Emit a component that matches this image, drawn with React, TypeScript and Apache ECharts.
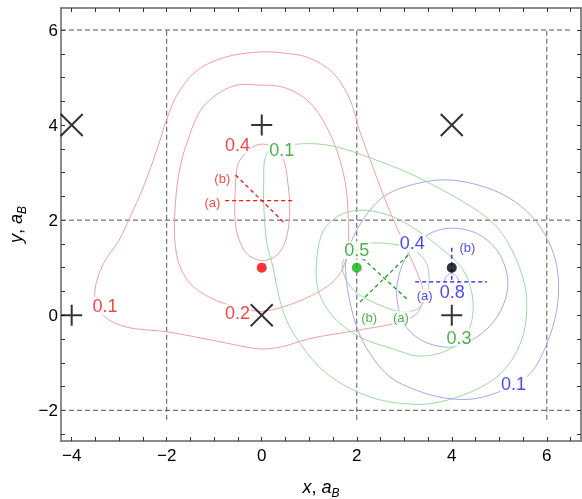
import React, { useEffect, useRef } from "react";
import * as echarts from "echarts";

// ---- axis ranges and ticks ----
const xRange = [-4.225, 6.72];
const yRange = [-2.646, 6.463];
const xTickLabels = [-4, -2, 0, 2, 4, 6];
const yTickLabels = [-2, 0, 2, 4, 6];
const xTicks = [-4, -3.5, -3, -2.5, -2, -1.5, -1, -0.5, 0, 0.5, 1, 1.5, 2, 2.5, 3, 3.5, 4, 4.5, 5, 5.5, 6, 6.5];
const yTicks = [-2.5, -2, -1.5, -1, -0.5, 0, 0.5, 1, 1.5, 2, 2.5, 3, 3.5, 4, 4.5, 5, 5.5, 6];

// dashed lattice lines
const latticeYs = [6, 2, -2];
const latticeXs = [-2, 2, 6];
const latticeXExtent = [-4.225, 6.55];
const latticeYExtent = [-2.2, 6];

// markers
const crossPts = [[-4, 4], [4, 4], [0, 0]];
const plusPts = [[0, 4], [-4, 0], [4, 0]];
const redDot = [[0, 1]];
const greenDot = [[2, 1]];
const blackDot = [[4, 1]];

// ---- contours ----
const red01 = [
  [0, 5.54], [0.5, 5.51], [0.95, 5.43], [1.5, 5.1], [1.86, 4.53], [2.07, 3.85], [2.28, 3.28],
  [2.58, 2.47], [2.8, 1.95], [3.02, 1.45], [3.25, 0.95], [3.4, 0.46], [3.27, 0.04], [2.91, -0.14],
  [2.0, -0.32], [1.02, -0.49], [0.39, -0.67], [0, -0.71], [-0.32, -0.67], [-1.02, -0.53],
  [-2.0, -0.35], [-2.84, -0.25], [-3.26, -0.07], [-3.47, 0.17], [-3.51, 0.53], [-3.33, 1.09],
  [-3.0, 1.58], [-2.77, 2.07], [-2.49, 2.7], [-2.2, 3.5], [-2.0, 4.12], [-1.8, 4.6], [-1.4, 5.12],
  [-0.8, 5.42],
];
const red02 = [
  [0, 4.84], [0.4, 4.81], [0.78, 4.65], [1.09, 4.39], [1.5, 3.68], [1.75, 2.84], [1.82, 2.06],
  [1.8, 1.3], [1.65, 0.88], [1.37, 0.6], [0.67, 0.25], [0, 0.08], [-0.32, 0.13], [-0.88, 0.28],
  [-1.44, 0.6], [-1.72, 1.02], [-1.83, 1.58], [-1.8, 2.56], [-1.72, 3.1], [-1.58, 3.61],
  [-1.23, 4.39], [-0.6, 4.82],
];
const red04 = [
  [-0.02, 3.6], [0.39, 3.4], [0.56, 2.7], [0.58, 2.0], [0.47, 1.48], [0.28, 1.23], [-0.02, 1.15],
  [-0.32, 1.3], [-0.48, 1.6], [-0.55, 1.9], [-0.56, 2.56], [-0.46, 3.26],
];
const green01 = [
  [0.11, 3.4], [0.39, 3.54], [1.02, 3.61], [1.58, 3.54], [2.42, 3.26], [3.12, 2.98], [3.68, 2.7],
  [4.25, 2.38], [4.88, 1.93], [5.23, 1.44], [5.51, 0.74], [5.58, 0.25], [5.51, -0.39], [5.3, -0.88],
  [4.95, -1.3], [4.32, -1.65], [3.61, -1.85], [3.12, -1.87], [2.28, -1.72], [1.37, -1.23],
  [0.81, -0.6], [0.52, -0.1], [0.36, 0.4], [0.24, 1.0], [0.11, 1.5], [0.06, 2.0], [0.04, 2.7],
];
const green03 = [
  [1.16, 1.2], [1.3, 1.78], [1.62, 2.09], [2.07, 2.21], [2.77, 2.07], [3.26, 1.79], [3.72, 1.45],
  [4.24, 0.95], [4.45, 0.25], [4.32, -0.39], [3.9, -0.74], [3.3, -0.86], [2.8, -0.72],
  [2.07, -0.46], [1.51, -0.04], [1.19, 0.53],
];
const green05 = [
  [1.72, 1.16], [2.07, 1.47], [2.63, 1.51], [3.19, 1.37], [3.47, 1.09], [3.51, 0.6], [3.33, 0.17],
  [2.98, 0.07], [2.49, 0.21], [1.93, 0.53], [1.72, 0.88],
];
const blue01 = [
  [2.0, 1.79], [1.78, 1.2], [1.79, 0.67], [2.0, -0.25], [2.28, -0.81], [2.7, -1.3], [3.26, -1.58],
  [3.85, -1.74], [4.45, -1.76], [5.12, -1.56], [5.65, -1.23], [6.0, -0.6], [6.21, 0.11],
  [6.24, 0.81], [6.14, 1.3], [5.86, 1.86], [5.45, 2.3], [4.88, 2.63], [4.03, 2.84], [3.4, 2.8],
  [2.56, 2.49],
];
const blue04 = [
  [3.96, 1.83], [4.53, 1.72], [4.95, 1.37], [5.16, 0.88], [5.16, 0.46], [4.95, -0.04], [4.53, -0.46],
  [3.96, -0.67], [3.35, -0.52], [2.98, -0.15], [2.84, 0.45], [2.92, 0.95], [3.12, 1.35], [3.5, 1.7],
];
const blue08 = [[3.86, 0.66], [3.87, 0.8], [3.99, 0.88], [4.12, 0.8], [4.13, 0.66], [3.99, 0.55]];

// contour labels [x, y, text]
const redLabels = [[-0.51, 3.58, "0.4"], [-3.3, 0.2, "0.1"], [-0.51, 0.05, "0.2"]];
const greenLabels = [[0.42, 3.47, "0.1"], [2.0, 1.37, "0.5"], [4.15, -0.47, "0.3"]];
const blueLabels = [[3.17, 1.51, "0.4"], [4.01, 0.48, "0.8"], [5.3, -1.44, "0.1"]];

// dashed cut segments
const redCutA = [[-0.77, 2.41], [0.7, 2.41]];
const redCutB = [[-0.55, 2.95], [0.49, 1.93]];
const greenCutA = [[2.12, 1.2], [3.09, 0.31]];
const greenCutB = [[2.07, 0.28], [3.12, 1.3]];
const blueCutA = [[3.23, 0.7], [4.74, 0.7]];
const blueCutB = [[4.0, 1.42], [4.0, 0.7]];
const redCutLabels = [[-0.83, 2.88, "(b)"], [-1.04, 2.37, "(a)"]];
const greenCutLabels = [[2.26, -0.05, "(b)"], [2.93, -0.05, "(a)"]];
const blueCutLabels = [[3.43, 0.41, "(a)"], [4.33, 1.42, "(b)"]];

const FONT = "'Liberation Sans', Arial, sans-serif";
const RED_LINE = "#ee9ea6";
const GREEN_LINE = "#9ed89e";
const BLUE_LINE = "#a6a6ee";
const RED = "#f01818";
const GREEN = "#1f9f1f";
const BLUE = "#1c1ce6";

// closed centripetal Catmull-Rom contour through the given points; each data item draws its own segment
function contour(data: number[][], color: string) {
  const n = data.length;
  return {
    type: "custom",
    data,
    silent: true,
    encode: { x: 0, y: 1 },
    z: 2,
    renderItem: (params: any, api: any) => {
      const i = params.dataIndex;
      const p0 = api.coord(data[(i - 1 + n) % n]);
      const p1 = api.coord(data[i]);
      const p2 = api.coord(data[(i + 1) % n]);
      const p3 = api.coord(data[(i + 2) % n]);
      const dist = (a: number[], b: number[]) => Math.max(1e-6, Math.sqrt(Math.hypot(a[0] - b[0], a[1] - b[1])));
      const d1 = dist(p0, p1), d2 = dist(p1, p2), d3 = dist(p2, p3);
      const c1 = [0, 1].map(
        (k) => (d1 * d1 * p2[k] - d2 * d2 * p0[k] + (2 * d1 * d1 + 3 * d1 * d2 + d2 * d2) * p1[k]) / (3 * d1 * (d1 + d2))
      );
      const c2 = [0, 1].map(
        (k) => (d3 * d3 * p1[k] - d2 * d2 * p3[k] + (2 * d3 * d3 + 3 * d3 * d2 + d2 * d2) * p2[k]) / (3 * d3 * (d3 + d2))
      );
      return {
        type: "bezierCurve",
        shape: { x1: p1[0], y1: p1[1], cpx1: c1[0], cpy1: c1[1], cpx2: c2[0], cpy2: c2[1], x2: p2[0], y2: p2[1] },
        style: { stroke: color, fill: null, lineWidth: 1 },
      };
    },
  };
}

function dashed(data: number[][], color: string) {
  return {
    type: "line",
    data,
    symbol: "none",
    silent: true,
    lineStyle: { color, width: 1.3, type: [4, 3] },
    z: 3,
  };
}

function labels(data: any[], color: string, size: number) {
  return {
    type: "scatter",
    data,
    symbolSize: 1,
    silent: true,
    itemStyle: { color: "rgba(0,0,0,0)" },
    label: {
      show: true,
      position: "inside",
      formatter: (p: any) => p.value[2],
      color,
      fontSize: size,
      fontFamily: FONT,
      backgroundColor: "#fff",
      padding: [0, 1],
    },
    z: 5,
  };
}

const minusFmt = (v: number) => (v < 0 ? "\u2212" + Math.abs(v) : String(v));

export default function App() {
  const ref = useRef<HTMLDivElement>(null);
  useEffect(() => {
    document.body.style.margin = "0";
    const chart = echarts.init(ref.current!, null, { renderer: "svg" });
    const baseAxisX = {
      type: "value",
      min: xRange[0],
      max: xRange[1],
      splitLine: { show: false },
      axisLine: { show: true, onZero: false, lineStyle: { color: "#666", width: 1.5 } },
      axisTick: { show: true, inside: true, length: 4, customValues: xTicks, lineStyle: { color: "#333" } },
    };
    const baseAxisY = {
      type: "value",
      min: yRange[0],
      max: yRange[1],
      splitLine: { show: false },
      axisLine: { show: true, onZero: false, lineStyle: { color: "#666", width: 1.5 } },
      axisTick: { show: true, inside: true, length: 4, customValues: yTicks, lineStyle: { color: "#333" } },
    };
    const nameRich = {
      i: { fontStyle: "italic", fontSize: 18, fontFamily: FONT, color: "#000", verticalAlign: "middle" },
      n: { fontSize: 18, fontFamily: FONT, color: "#000", verticalAlign: "middle" },
      s: { fontStyle: "italic", fontSize: 12, fontFamily: FONT, color: "#000", verticalAlign: "bottom", lineHeight: 12 },
    };
    const series: any[] = [];
    latticeYs.forEach((y) =>
      series.push({
        type: "line",
        data: [[latticeXExtent[0], y], [latticeXExtent[1], y]],
        symbol: "none",
        silent: true,
        lineStyle: { color: "#555", width: 1, type: [5, 3] },
        z: 1,
      })
    );
    latticeXs.forEach((x) =>
      series.push({
        type: "line",
        data: [[x, latticeYExtent[0]], [x, latticeYExtent[1]]],
        symbol: "none",
        silent: true,
        lineStyle: { color: "#555", width: 1, type: [5, 3] },
        z: 1,
      })
    );
    series.push(contour(red01, RED_LINE), contour(red02, RED_LINE), contour(red04, RED_LINE));
    series.push(contour(green01, GREEN_LINE), contour(green03, GREEN_LINE), contour(green05, GREEN_LINE));
    series.push(contour(blue01, BLUE_LINE), contour(blue04, BLUE_LINE), contour(blue08, BLUE_LINE));
    series.push(dashed(redCutA, RED), dashed(redCutB, RED));
    series.push(dashed(greenCutA, GREEN), dashed(greenCutB, GREEN));
    series.push(dashed(blueCutA, BLUE), dashed(blueCutB, BLUE));
    series.push(labels(redLabels, RED, 18), labels(greenLabels, GREEN, 18), labels(blueLabels, BLUE, 18));
    series.push(labels(redCutLabels, RED, 13), labels(greenCutLabels, GREEN, 13), labels(blueCutLabels, BLUE, 13));
    series.push({
      type: "scatter",
      data: crossPts,
      symbol: "path://M0,0L20,20M20,0L0,20",
      symbolSize: 22,
      silent: true,
      itemStyle: { color: "none", borderColor: "#000", borderWidth: 2 },
      z: 6,
    });
    series.push({
      type: "scatter",
      data: plusPts,
      symbol: "path://M10,0L10,20M0,10L20,10",
      symbolSize: 21,
      silent: true,
      itemStyle: { color: "none", borderColor: "#000", borderWidth: 2 },
      z: 6,
    });
    series.push({ type: "scatter", data: redDot, symbolSize: 10, itemStyle: { color: "#ff0000" }, z: 6, silent: true });
    series.push({ type: "scatter", data: greenDot, symbolSize: 10, itemStyle: { color: "#16b016" }, z: 6, silent: true });
    series.push({ type: "scatter", data: blackDot, symbolSize: 10, itemStyle: { color: "#000" }, z: 6, silent: true });

    chart.setOption({
      animation: false,
      grid: { left: 61, top: 8, right: 1, bottom: 58, containLabel: false, outerBoundsMode: "none" },
      xAxis: [
        {
          ...baseAxisX,
          position: "bottom",
          axisLabel: { show: true, customValues: xTickLabels, margin: 6, fontSize: 17, fontFamily: FONT, color: "#000", formatter: minusFmt },
          name: "{i|x}{n|, }{i|a}{s|B}",
          nameLocation: "middle",
          nameGap: 34,
          nameTextStyle: { rich: nameRich, lineHeight: 24 },
        },
        { ...baseAxisX, position: "top", axisLabel: { show: false } },
      ],
      yAxis: [
        {
          ...baseAxisY,
          position: "left",
          axisLabel: { show: true, customValues: yTickLabels, margin: 3, fontSize: 17, fontFamily: FONT, color: "#000", formatter: minusFmt },
          name: "{i|y}{n|, }{i|a}{s|B}",
          nameLocation: "middle",
          nameGap: 30,
          nameTextStyle: { rich: nameRich, lineHeight: 24 },
        },
        { ...baseAxisY, position: "right", axisLabel: { show: false } },
      ],
      series,
    });
    return () => chart.dispose();
  }, []);
  return <div ref={ref} style={{ position: "fixed", left: 0, top: 0, width: 582, height: 499 }} />;
}
